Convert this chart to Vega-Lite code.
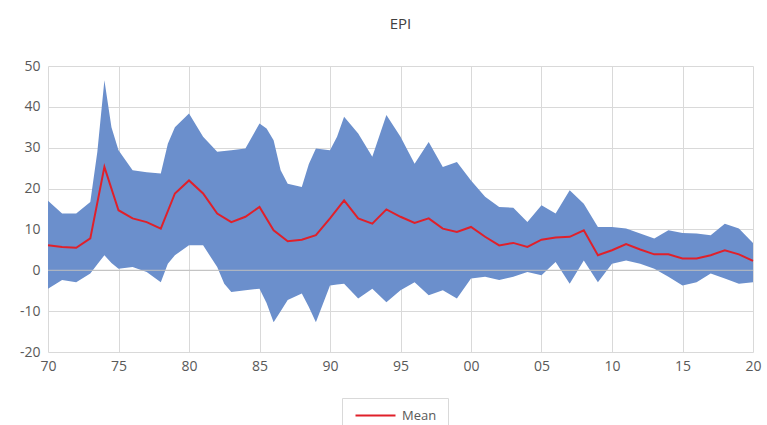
{
  "$schema": "https://vega.github.io/schema/vega-lite/v6.json",
  "width": 705,
  "height": 286,
  "autosize": "none",
  "padding": {"left": 48, "top": 66, "right": 14, "bottom": 73},
  "background": "white",
  "title": {"text": "EPI", "font": "Open Sans", "fontSize": 15, "fontWeight": "normal", "color": "#404040", "offset": 27, "anchor": "middle"},
  "config": {
    "view": {"stroke": null},
    "axis": {"gridColor": "#d9d9d9", "gridWidth": 1, "domain": false, "ticks": false, "labelFont": "Open Sans", "labelFontSize": 14, "labelColor": "#595959", "titleFontSize": 0}
  },
  "datasets": {
    "band": [
      {"year": 1970, "lo": -4.5, "hi": 17.0},
      {"year": 1971, "lo": -2.4, "hi": 13.9},
      {"year": 1972, "lo": -2.9, "hi": 13.9},
      {"year": 1973, "lo": -0.8, "hi": 16.7},
      {"year": 1973.5, "lo": 1.5, "hi": 29.0},
      {"year": 1974, "lo": 3.7, "hi": 46.5},
      {"year": 1974.5, "lo": 1.8, "hi": 35.0},
      {"year": 1975, "lo": 0.4, "hi": 29.4},
      {"year": 1976, "lo": 0.8, "hi": 24.5},
      {"year": 1977, "lo": -0.4, "hi": 24.0},
      {"year": 1978, "lo": -2.9, "hi": 23.7},
      {"year": 1978.5, "lo": 1.6, "hi": 31.0},
      {"year": 1979, "lo": 3.7, "hi": 35.0},
      {"year": 1980, "lo": 6.1, "hi": 38.4},
      {"year": 1981, "lo": 6.1, "hi": 32.7},
      {"year": 1982, "lo": 0.8, "hi": 29.0},
      {"year": 1982.5, "lo": -3.3, "hi": 29.2},
      {"year": 1983, "lo": -5.3, "hi": 29.4},
      {"year": 1984, "lo": -4.9, "hi": 29.8},
      {"year": 1985, "lo": -4.5, "hi": 35.9},
      {"year": 1985.5, "lo": -8.0, "hi": 34.7},
      {"year": 1986, "lo": -12.7, "hi": 31.8},
      {"year": 1986.5, "lo": -10.0, "hi": 24.5},
      {"year": 1987, "lo": -7.3, "hi": 21.2},
      {"year": 1988, "lo": -5.7, "hi": 20.4},
      {"year": 1988.5, "lo": -9.0, "hi": 26.0},
      {"year": 1989, "lo": -12.7, "hi": 29.8},
      {"year": 1990, "lo": -3.7, "hi": 29.4},
      {"year": 1990.5, "lo": -3.5, "hi": 32.7},
      {"year": 1991, "lo": -3.3, "hi": 37.6},
      {"year": 1992, "lo": -6.9, "hi": 33.5},
      {"year": 1993, "lo": -4.5, "hi": 27.8},
      {"year": 1994, "lo": -7.8, "hi": 38.0},
      {"year": 1995, "lo": -4.9, "hi": 32.7},
      {"year": 1996, "lo": -2.9, "hi": 26.1},
      {"year": 1997, "lo": -6.1, "hi": 31.4},
      {"year": 1998, "lo": -4.9, "hi": 25.3},
      {"year": 1999, "lo": -6.9, "hi": 26.5},
      {"year": 2000, "lo": -2.0, "hi": 22.0},
      {"year": 2001, "lo": -1.6, "hi": 18.0},
      {"year": 2002, "lo": -2.4, "hi": 15.5},
      {"year": 2003, "lo": -1.6, "hi": 15.3},
      {"year": 2004, "lo": -0.4, "hi": 11.8},
      {"year": 2005, "lo": -1.2, "hi": 15.9},
      {"year": 2006, "lo": 2.0, "hi": 13.9},
      {"year": 2007, "lo": -3.3, "hi": 19.6},
      {"year": 2008, "lo": 2.4, "hi": 16.3},
      {"year": 2009, "lo": -2.9, "hi": 10.6},
      {"year": 2010, "lo": 1.6, "hi": 10.6},
      {"year": 2011, "lo": 2.4, "hi": 10.2},
      {"year": 2012, "lo": 1.6, "hi": 9.0},
      {"year": 2013, "lo": 0.4, "hi": 7.8},
      {"year": 2014, "lo": -1.6, "hi": 9.8},
      {"year": 2015, "lo": -3.7, "hi": 9.1},
      {"year": 2016, "lo": -2.9, "hi": 9.0},
      {"year": 2017, "lo": -0.8, "hi": 8.6},
      {"year": 2018, "lo": -2.0, "hi": 11.4},
      {"year": 2019, "lo": -3.3, "hi": 10.2},
      {"year": 2020, "lo": -2.9, "hi": 6.7}
    ],
    "mean": [
      {"year": 1970, "mean": 6.1, "series": "Mean"},
      {"year": 1971, "mean": 5.7, "series": "Mean"},
      {"year": 1972, "mean": 5.5, "series": "Mean"},
      {"year": 1973, "mean": 7.8, "series": "Mean"},
      {"year": 1974, "mean": 25.3, "series": "Mean"},
      {"year": 1975, "mean": 14.7, "series": "Mean"},
      {"year": 1976, "mean": 12.7, "series": "Mean"},
      {"year": 1977, "mean": 11.8, "series": "Mean"},
      {"year": 1978, "mean": 10.2, "series": "Mean"},
      {"year": 1979, "mean": 18.8, "series": "Mean"},
      {"year": 1980, "mean": 22.0, "series": "Mean"},
      {"year": 1981, "mean": 18.8, "series": "Mean"},
      {"year": 1982, "mean": 13.9, "series": "Mean"},
      {"year": 1983, "mean": 11.8, "series": "Mean"},
      {"year": 1984, "mean": 13.1, "series": "Mean"},
      {"year": 1985, "mean": 15.5, "series": "Mean"},
      {"year": 1986, "mean": 9.8, "series": "Mean"},
      {"year": 1987, "mean": 7.1, "series": "Mean"},
      {"year": 1988, "mean": 7.5, "series": "Mean"},
      {"year": 1989, "mean": 8.6, "series": "Mean"},
      {"year": 1990, "mean": 12.7, "series": "Mean"},
      {"year": 1991, "mean": 17.1, "series": "Mean"},
      {"year": 1992, "mean": 12.7, "series": "Mean"},
      {"year": 1993, "mean": 11.4, "series": "Mean"},
      {"year": 1994, "mean": 14.9, "series": "Mean"},
      {"year": 1995, "mean": 13.1, "series": "Mean"},
      {"year": 1996, "mean": 11.6, "series": "Mean"},
      {"year": 1997, "mean": 12.7, "series": "Mean"},
      {"year": 1998, "mean": 10.2, "series": "Mean"},
      {"year": 1999, "mean": 9.4, "series": "Mean"},
      {"year": 2000, "mean": 10.6, "series": "Mean"},
      {"year": 2001, "mean": 8.2, "series": "Mean"},
      {"year": 2002, "mean": 6.1, "series": "Mean"},
      {"year": 2003, "mean": 6.7, "series": "Mean"},
      {"year": 2004, "mean": 5.7, "series": "Mean"},
      {"year": 2005, "mean": 7.5, "series": "Mean"},
      {"year": 2006, "mean": 8.0, "series": "Mean"},
      {"year": 2007, "mean": 8.2, "series": "Mean"},
      {"year": 2008, "mean": 9.8, "series": "Mean"},
      {"year": 2009, "mean": 3.7, "series": "Mean"},
      {"year": 2010, "mean": 4.9, "series": "Mean"},
      {"year": 2011, "mean": 6.4, "series": "Mean"},
      {"year": 2012, "mean": 5.1, "series": "Mean"},
      {"year": 2013, "mean": 3.9, "series": "Mean"},
      {"year": 2014, "mean": 3.9, "series": "Mean"},
      {"year": 2015, "mean": 2.9, "series": "Mean"},
      {"year": 2016, "mean": 2.9, "series": "Mean"},
      {"year": 2017, "mean": 3.7, "series": "Mean"},
      {"year": 2018, "mean": 4.9, "series": "Mean"},
      {"year": 2019, "mean": 3.9, "series": "Mean"},
      {"year": 2020, "mean": 2.3, "series": "Mean"}
    ],
    "zero": [{"y": 0}]
  },
  "layer": [
    {
      "data": {"name": "band"},
      "mark": {"type": "area", "color": "#6b8fcc", "opacity": 1},
      "encoding": {
        "x": {"field": "year", "type": "quantitative", "scale": {"domain": [1970, 2020], "nice": false, "zero": false},
          "axis": {"title": null, "values": [1970, 1975, 1980, 1985, 1990, 1995, 2000, 2005, 2010, 2015, 2020], "labelExpr": "slice(format(datum.value, 'd'), 2)", "labelFlush": false, "labelPadding": 7, "grid": true}},
        "y": {"field": "lo", "type": "quantitative", "scale": {"domain": [-20, 50], "nice": false},
          "axis": {"title": null, "values": [-20, -10, 0, 10, 20, 30, 40, 50], "labelExpr": "datum.value + ''", "labelFlush": false, "labelPadding": 8, "grid": true}},
        "y2": {"field": "hi"}
      }
    },
    {
      "data": {"name": "zero"},
      "mark": {"type": "rule", "color": "#bfbfbf", "strokeWidth": 1},
      "encoding": {"y": {"field": "y", "type": "quantitative"}}
    },
    {
      "data": {"name": "mean"},
      "mark": {"type": "line", "strokeWidth": 2},
      "encoding": {
        "x": {"field": "year", "type": "quantitative"},
        "y": {"field": "mean", "type": "quantitative"},
        "color": {"field": "series", "type": "nominal", "scale": {"range": ["#e0202a"]},
          "legend": {"title": null, "orient": "none", "legendX": 294, "legendY": 332, "symbolType": "M-5,0H5", "symbolSize": 64, "symbolStrokeWidth": 2, "symbolOffset": 16, "labelOffset": 20, "labelFont": "Open Sans", "labelFontSize": 13, "labelColor": "#595959", "strokeColor": "#d9d9d9", "padding": 11}}
      }
    }
  ]
}
